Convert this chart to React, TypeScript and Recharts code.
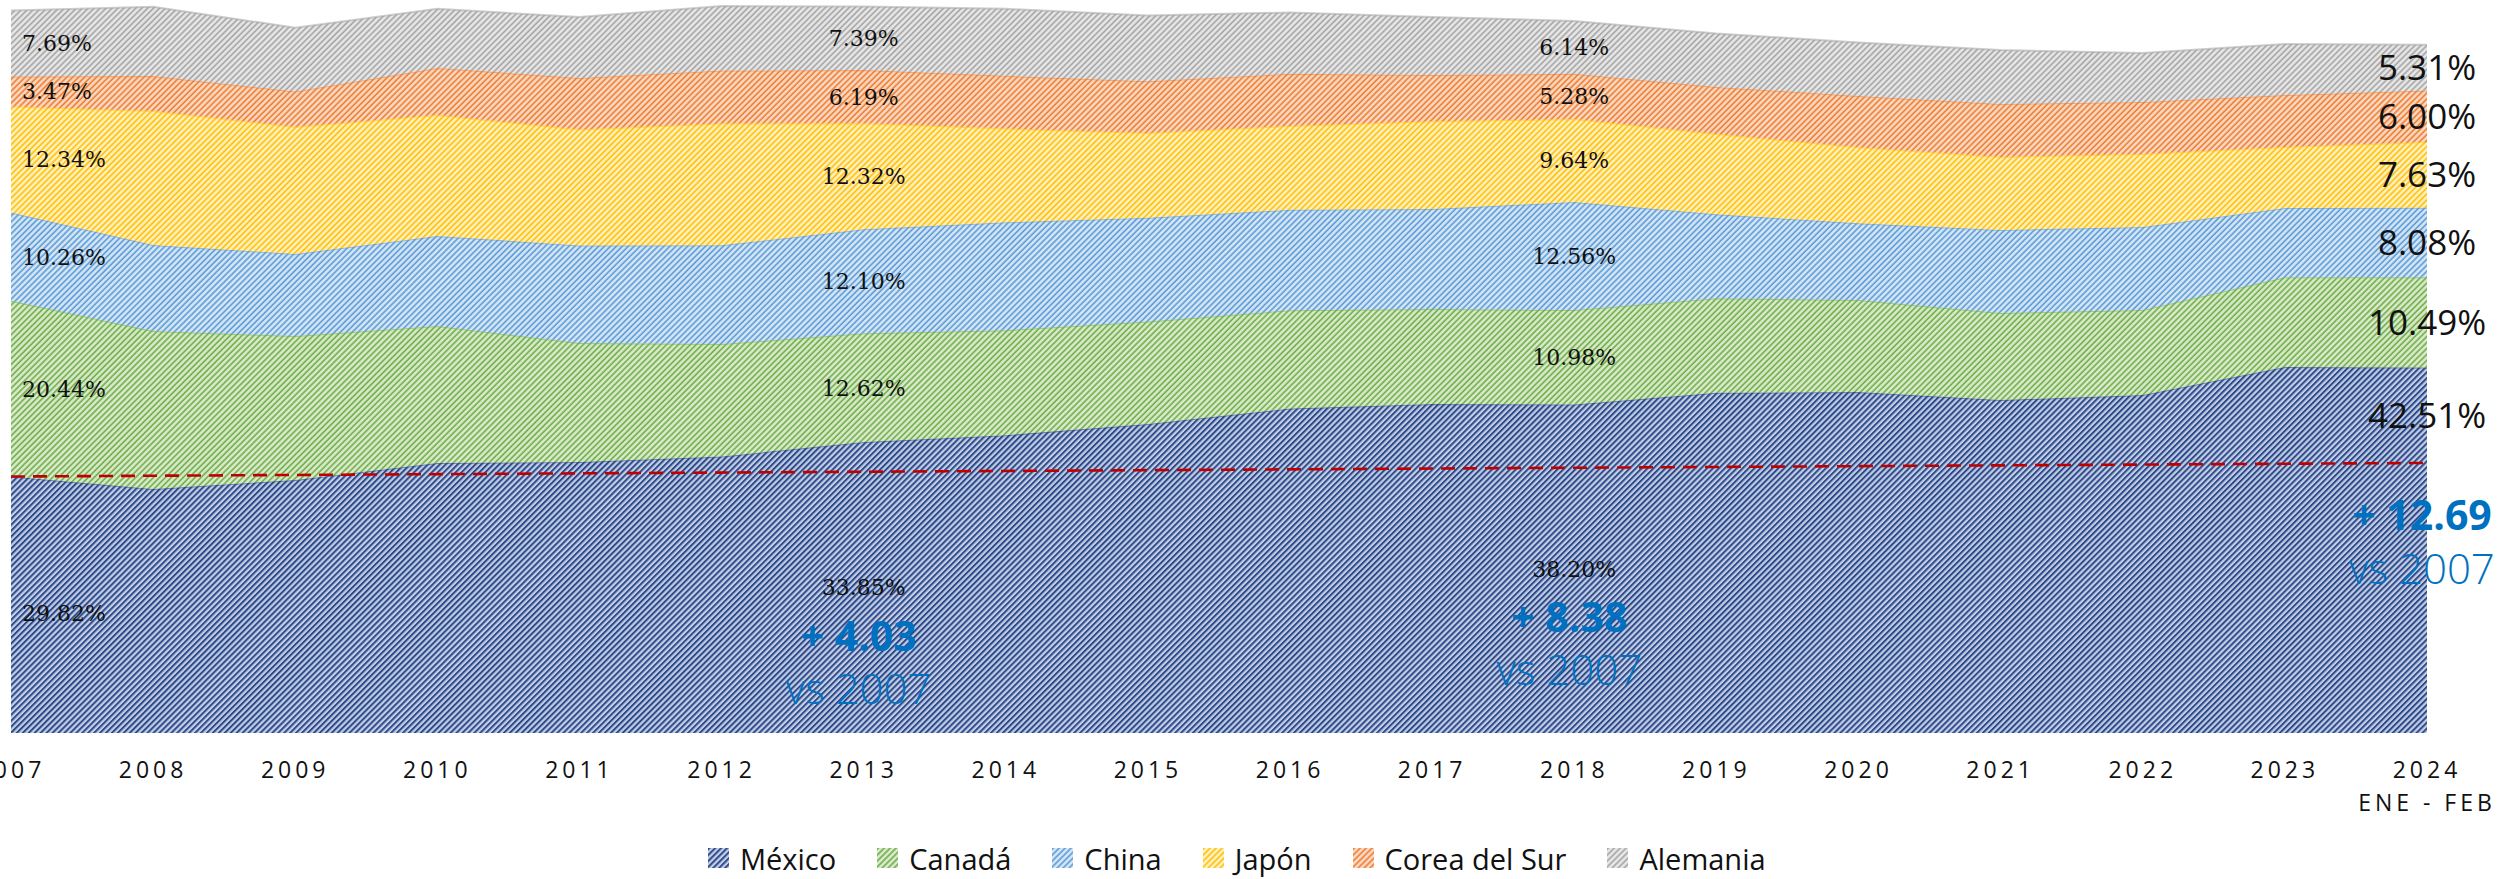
import React from 'react';
import { ComposedChart, Area, Line, XAxis, YAxis, LabelList } from 'recharts';

// Share of imports by country of origin (%), 2007 - 2024 (ene-feb)
const years = ['2007', '2008', '2009', '2010', '2011', '2012', '2013', '2014', '2015', '2016', '2017', '2018', '2019', '2020', '2021', '2022', '2023', '2024'];
const mexico = [29.82, 28.37, 29.42, 31.4, 31.51, 32.15, 33.85, 34.63, 35.93, 37.73, 38.26, 38.2, 39.56, 39.65, 38.72, 39.3, 42.56, 42.51];
const canada = [20.44, 18.37, 16.74, 15.93, 13.84, 13.08, 12.62, 12.2, 11.93, 11.43, 11.05, 10.98, 11.0, 10.7, 10.12, 9.89, 10.42, 10.49];
const china = [10.26, 10.0, 9.54, 10.46, 11.34, 11.49, 12.1, 12.55, 12.05, 11.68, 11.63, 12.56, 9.75, 8.93, 9.65, 9.65, 8.07, 8.08];
const japon = [12.34, 15.59, 14.77, 14.07, 13.48, 14.16, 12.32, 10.9, 9.86, 9.75, 10.18, 9.64, 9.34, 8.82, 8.49, 8.49, 7.09, 7.63];
const corea = [3.47, 4.07, 4.12, 5.47, 5.99, 6.15, 6.19, 6.13, 6.02, 6.07, 5.39, 5.28, 5.47, 5.97, 6.16, 6.04, 6.05, 6.0];
const alemania = [7.69, 8.05, 7.42, 6.87, 7.1, 7.5, 7.39, 7.79, 7.63, 7.12, 6.75, 6.14, 6.22, 6.23, 6.28, 5.7, 5.93, 5.31];
// dashed reference line at the 2007 level of México
const ref2007 = [29.82, null, null, null, null, null, null, null, null, null, null, null, null, null, null, null, null, 31.4];

const labeledYears = ['2007', '2013', '2018', '2024'];
const lastPeriodLabel = 'ENE - FEB';

const W = 2499;
const H = 879;
const PLOT_H = 733;
const Y_MAX = 85.23;
const K = PLOT_H / Y_MAX;

const series = [
  { key: 'mexico', name: 'México', values: mexico, bg: '#C3CEE5', line: '#2D4B8B', lw: 2 },
  { key: 'canada', name: 'Canadá', values: canada, bg: '#D8EACB', line: '#70AD47', lw: 1.6 },
  { key: 'china', name: 'China', values: china, bg: '#D4E5F6', line: '#5B9BD5', lw: 1.6 },
  { key: 'japon', name: 'Japón', values: japon, bg: '#FFF0C2', line: '#FFC000', lw: 1.6 },
  { key: 'corea', name: 'Corea del Sur', values: corea, bg: '#FAD8C2', line: '#ED7D31', lw: 1.6 },
  { key: 'alemania', name: 'Alemania', values: alemania, bg: '#E6E6E6', line: '#A5A5A5', lw: 1.6 },
];

const data = years.map((year, i) => ({
  year,
  mexico: mexico[i],
  canada: canada[i],
  china: china[i],
  japon: japon[i],
  corea: corea[i],
  alemania: alemania[i],
  ref: ref2007[i],
}));

const Hatch = ({ id, bg, line, lw }: { id: string; bg: string; line: string; lw: number }) => (
  <pattern id={id} patternUnits="userSpaceOnUse" width={4.2} height={4.2} patternTransform="rotate(45)">
    <rect width={4.2} height={4.2} fill={bg} />
    <line x1={1} y1={0} x2={1} y2={4.2} stroke={line} strokeWidth={lw} />
  </pattern>
);

const blue = '#0070C0';

const makeLabel = (values: number[], isMexico: boolean) => (props: any) => {
  const { index } = props;
  if (!labeledYears.includes(years[index])) return null;
  const px = props.x ?? props.viewBox?.x;
  const py = props.y ?? props.viewBox?.y;
  const v = values[index];
  const mid = py + (v * K) / 2;
  const text = `${v.toFixed(2)}%`;

  if (index === years.length - 1) {
    const ly = isMexico ? py + 48 : mid;
    return (
      <g>
        <text x={px} y={ly} dy="0.35em" textAnchor="middle" fontFamily="'Open Sans', sans-serif" fontSize={35} fill="#111">
          {text}
        </text>
        {isMexico && (
          <>
            <text x={px - 5} y={ly + 100} dy="0.36em" textAnchor="middle" fontFamily="'Open Sans', sans-serif" fontWeight={700} fontSize={41} fill={blue}>
              {`+ ${(v - values[0]).toFixed(2)}`}
            </text>
            <text x={px - 5} y={ly + 153} dy="0.36em" textAnchor="middle" fontFamily="'Open Sans', sans-serif" fontWeight={300} fontSize={42} fill={blue}>
              vs 2007
            </text>
          </>
        )}
      </g>
    );
  }

  const first = index === 0;
  return (
    <g>
      <text
        x={first ? px + 11 : px}
        y={isMexico && first ? mid + 8 : mid}
        dy="0.36em"
        textAnchor={first ? 'start' : 'middle'}
        fontFamily="'DejaVu Serif', serif"
        fontSize={22}
        fill="#111"
      >
        {text}
      </text>
      {isMexico && !first && (
        <>
          <text x={px - 5} y={mid + 49} dy="0.36em" textAnchor="middle" fontFamily="'Open Sans', sans-serif" fontWeight={700} fontSize={41} fill={blue}>
            {`+ ${(v - values[0]).toFixed(2)}`}
          </text>
          <text x={px - 5} y={mid + 101} dy="0.36em" textAnchor="middle" fontFamily="'Open Sans', sans-serif" fontWeight={300} fontSize={42} fill={blue}>
            vs 2007
          </text>
        </>
      )}
    </g>
  );
};

const YearTick = (props: any) => {
  const { x, y, payload } = props;
  const isLast = payload.value === years[years.length - 1];
  return (
    <g>
      <text x={x} y={y + 37} textAnchor="middle" fontFamily="'Open Sans', sans-serif" fontSize={23} letterSpacing={4} fill="#111">
        {payload.value}
      </text>
      {isLast && (
        <text x={x} y={y + 70} textAnchor="middle" fontFamily="'Open Sans', sans-serif" fontSize={23} letterSpacing={4} fill="#111">
          {lastPeriodLabel}
        </text>
      )}
    </g>
  );
};

const LegendRow = () => (
  <div
    style={{
      position: 'absolute',
      top: 843,
      left: 708,
      height: 30,
      display: 'flex',
      alignItems: 'center',
      fontFamily: "'Open Sans', sans-serif",
      fontSize: 29,
      lineHeight: 1,
      color: '#111',
      whiteSpace: 'nowrap',
    }}
  >
    {series.map((s) => (
      <div key={s.key} style={{ display: 'flex', alignItems: 'center', marginRight: 41 }}>
        <svg width={21} height={20} style={{ marginRight: 11 }}>
          <defs>
            <Hatch id={`leg-${s.key}`} bg={s.bg} line={s.line} lw={s.lw} />
          </defs>
          <rect width={21} height={20} fill={`url(#leg-${s.key})`} />
        </svg>
        <span>{s.name}</span>
      </div>
    ))}
  </div>
);

const App: React.FC = () => {
  return (
    <div style={{ position: 'absolute', left: 0, top: 0, width: W, height: H, background: '#fff' }}>
      <ComposedChart width={W} height={H} data={data} margin={{ top: 0, right: 72, bottom: 86, left: 11 }}>
        <defs>
          {series.map((s) => (
            <Hatch key={s.key} id={`pat-${s.key}`} bg={s.bg} line={s.line} lw={s.lw} />
          ))}
        </defs>
        <XAxis dataKey="year" height={60} axisLine={false} tickLine={false} tick={<YearTick />} interval={0} />
        <YAxis hide domain={[0, Y_MAX]} allowDataOverflow />
        {series.map((s) => (
          <Area
            key={s.key}
            type="linear"
            dataKey={s.key}
            name={s.name}
            stackId="1"
            fill={`url(#pat-${s.key})`}
            fillOpacity={1}
            stroke={s.line}
            strokeOpacity={0.55}
            strokeWidth={2}
            isAnimationActive={false}
          >
            <LabelList dataKey={s.key} content={makeLabel(s.values, s.key === 'mexico')} />
          </Area>
        ))}
        <Line
          type="linear"
          dataKey="ref"
          stroke="#C00000"
          strokeWidth={2.6}
          strokeDasharray="14 8"
          dot={false}
          activeDot={false}
          connectNulls
          isAnimationActive={false}
        />
      </ComposedChart>
      <LegendRow />
    </div>
  );
};

export default App;
